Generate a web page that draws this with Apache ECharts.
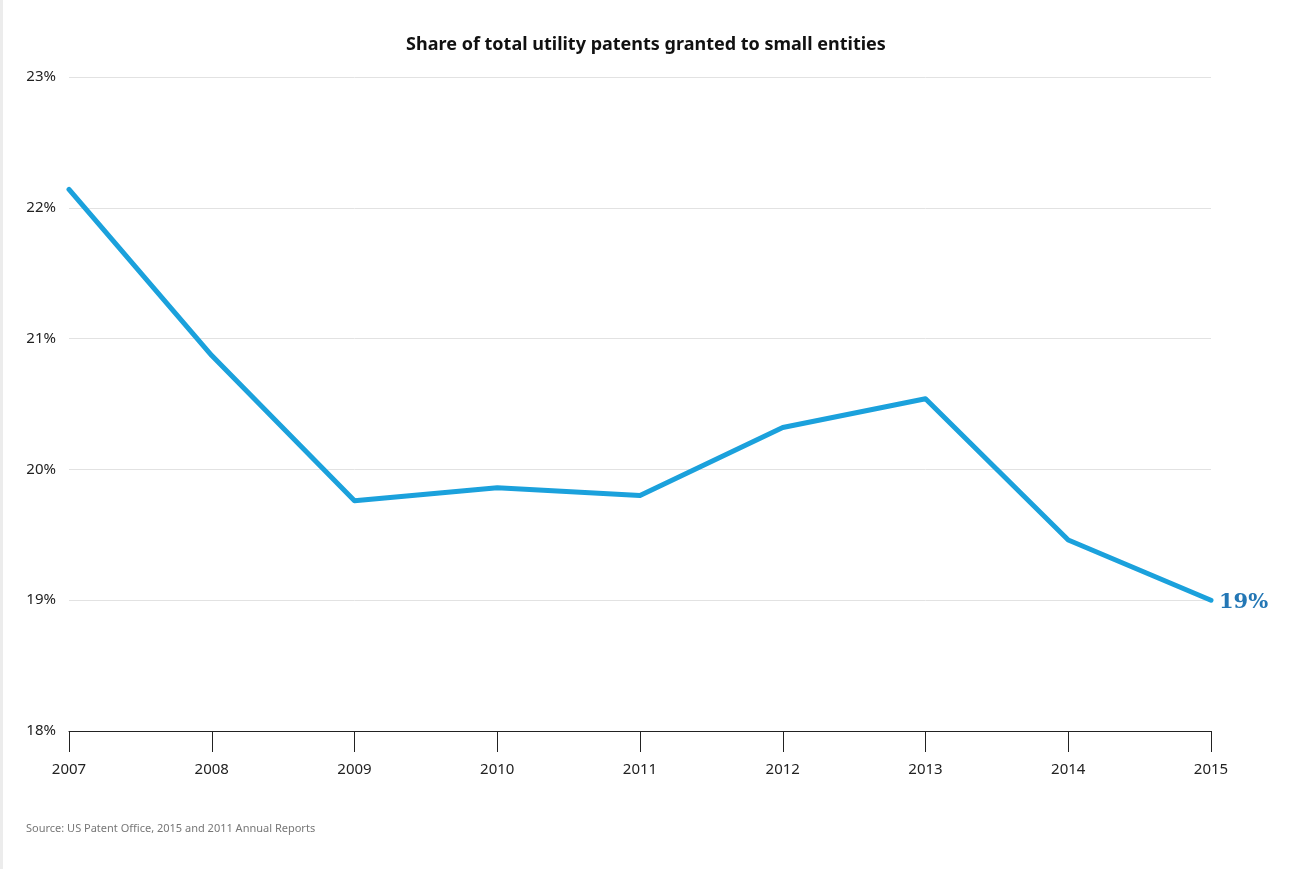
<!DOCTYPE html>
<html>
<head>
<meta charset="utf-8">
<script src="https://cdn.jsdelivr.net/npm/echarts@6/dist/echarts.min.js"></script>
<style>
  html, body { margin: 0; padding: 0; background: #fff; }
  #chart { width: 1289px; height: 869px; box-sizing: border-box; border-left: 3px solid #ececec; }
</style>
</head>
<body>
<div id="chart"></div>
<script>
var years = ["2007", "2008", "2009", "2010", "2011", "2012", "2013", "2014", "2015"];
var shares = [22.14, 20.87, 19.76, 19.86, 19.80, 20.32, 20.54, 19.46, 19.0];
var yTicks = [18, 19, 20, 21, 22, 23];
var titleText = "Share of total utility patents granted to small entities";
var sourceText = "Source: US Patent Office, 2015 and 2011 Annual Reports";
var endText = "19%";

var chart = echarts.init(document.getElementById("chart"));

var option = {
  animation: false,
  title: {
    text: titleText,
    left: "center",
    top: 31,
    textStyle: { fontFamily: "Noto Sans", fontSize: 18, fontWeight: "bold", color: "#111" }
  },
  graphic: [{
    type: "text",
    left: 23,
    top: 823,
    style: { text: sourceText, fontFamily: "Noto Sans", fontSize: 11, fill: "#777" }
  }],
  grid: { left: 66, right: 78, top: 77, bottom: 138 },
  xAxis: {
    type: "category",
    data: years,
    boundaryGap: false,
    axisLine: { lineStyle: { color: "#222", width: 1 } },
    axisTick: { show: true, length: 21, lineStyle: { color: "#222" } },
    axisLabel: { margin: 31, fontFamily: "Noto Sans", fontSize: 15, color: "#222" }
  },
  yAxis: {
    type: "value",
    min: yTicks[0],
    max: yTicks[yTicks.length - 1],
    interval: 1,
    axisLine: { show: false },
    axisTick: { show: false },
    splitLine: { lineStyle: { color: "#e2e2e2", width: 1 } },
    axisLabel: {
      margin: 13,
      fontFamily: "Noto Sans",
      fontSize: 15,
      color: "#222",
      formatter: "{value}%"
    }
  },
  series: [{
    type: "line",
    data: shares,
    symbol: "none",
    lineStyle: { color: "#1ba1dc", width: 5, cap: "round", join: "round" },
    endLabel: {
      show: true,
      formatter: endText,
      distance: 8,
      offset: [0, 2],
      fontFamily: "DejaVu Serif",
      fontWeight: "bold",
      fontSize: 21,
      color: "#2477b5"
    }
  }]
};

chart.setOption(option);
</script>
</body>
</html>
